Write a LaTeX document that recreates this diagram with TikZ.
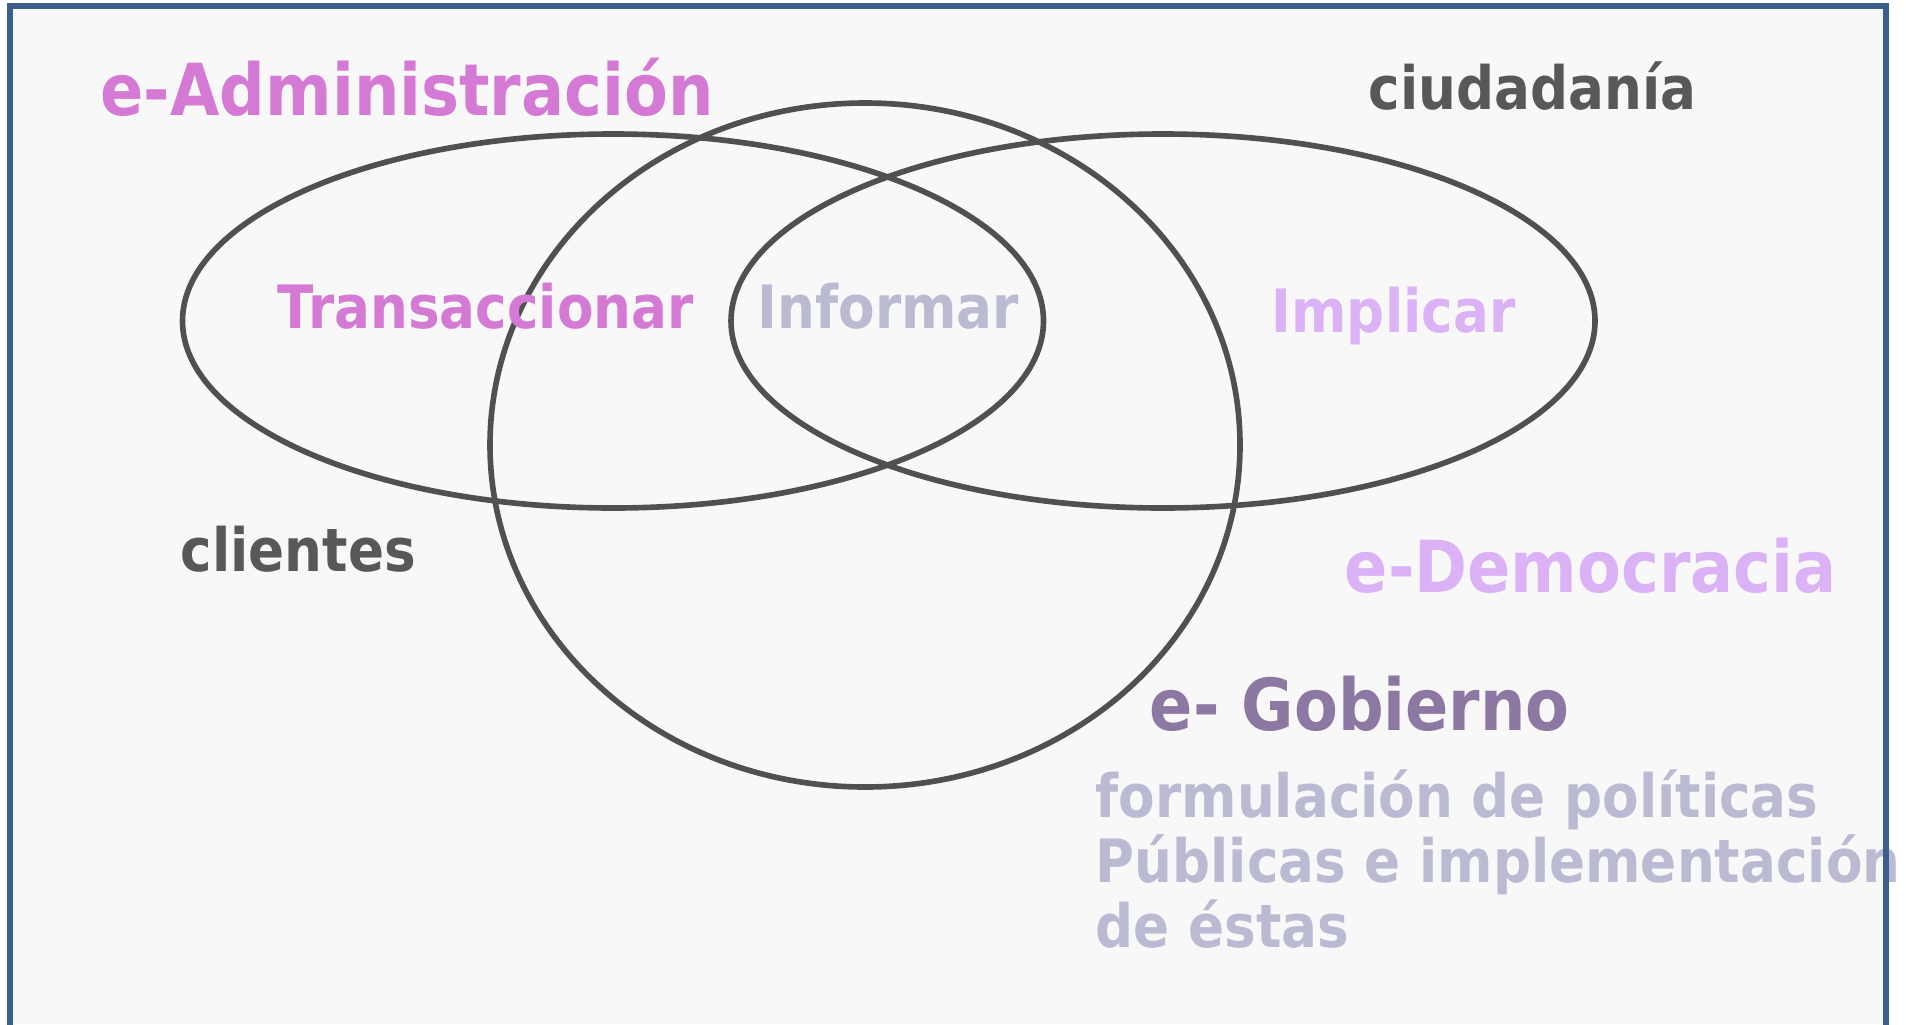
\documentclass[tikz,border=0pt]{standalone}
\usepackage{fontspec}
\newfontfamily\vfont{DejaVu Sans}[FakeStretch=0.89]
\usetikzlibrary{positioning}
\definecolor{marco}{RGB}{59,94,140}
\definecolor{fondo}{RGB}{248,248,248}
\definecolor{orquidea}{RGB}{212,122,212}
\definecolor{lavanda}{RGB}{186,186,210}
\definecolor{lila}{RGB}{218,178,245}
\definecolor{gris}{RGB}{88,88,88}
\definecolor{trazo}{RGB}{80,80,80}
\definecolor{malva}{RGB}{140,120,162}

\begin{document}
\begin{tikzpicture}[x=0.01cm,y=-0.01cm,
  lbl/.style={anchor=base west,inner sep=0pt},
  big/.style={font=\vfont\bfseries\fontsize{20.4}{24}\selectfont},
  mid/.style={font=\vfont\bfseries\fontsize{17}{20}\selectfont},
  set/.style={draw=trazo,line width=1.6pt}]
\useasboundingbox (0,0) rectangle (1907,1024);
\fill[white] (0,0) rectangle (1907,1024);
\fill[fondo] (10,6) rectangle (1886,1024);

% conjuntos
\draw[set] (613,321) ellipse [x radius=430.5,y radius=187];
\draw[set] (1163,321) ellipse [x radius=432,y radius=187];
\draw[set] (865,445) ellipse [x radius=375,y radius=342];

% textos
\node[lbl,big,text=orquidea] (admin) at (100,115.5) {e-Administración};
\node[lbl,mid,text=gris] (ciud) at (1368,109.5) {ciudadanía};
\node[lbl,mid,text=orquidea] (trans) at (277,328) {Transaccionar};
\node[lbl,mid,text=lavanda] (inform) at (757,328) {Informar};
\node[lbl,mid,text=lila] (implic) at (1271,332) {Implicar};
\node[lbl,mid,text=gris] (client) at (180,571.6) {clientes};
\node[lbl,big,text=lila] (democ) at (1344,592) {e-Democracia};
\node[lbl,big,text=malva] (gob) at (1149,730) {e- Gobierno};
\node[lbl,mid,text=lavanda] (polit1) at (1095,817) {formulación de políticas};
\node[lbl,mid,text=lavanda] (polit2) at ([yshift=-18.6pt]polit1.base west) {Públicas e implementación};
\node[lbl,mid,text=lavanda] (polit3) at ([yshift=-18.6pt]polit2.base west) {de éstas};

% marco
\draw[marco,line width=1.5pt] (10,1030) -- (10,6) -- (1886,6) -- (1886,1030);
\end{tikzpicture}
\end{document}
